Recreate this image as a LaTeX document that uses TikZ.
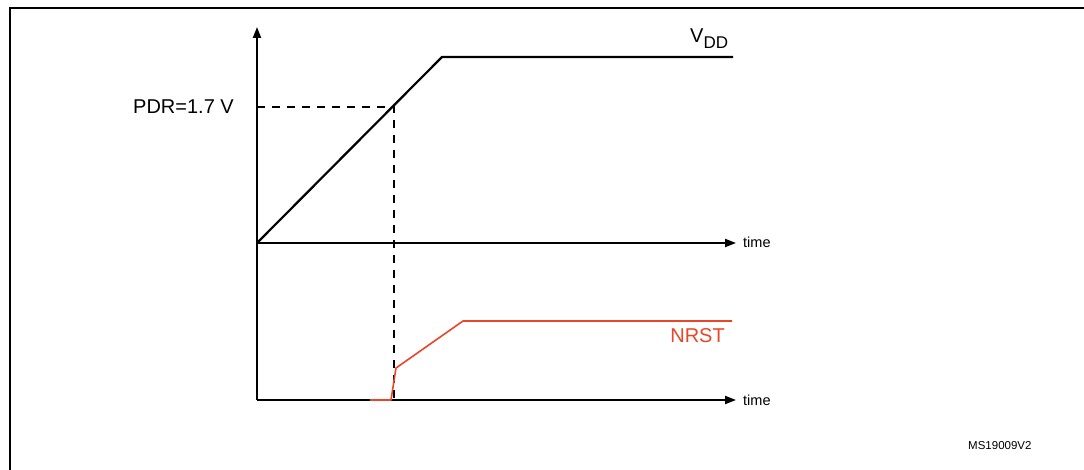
\documentclass[tikz,border=0pt]{standalone}
\usepackage{fontspec}
\setmainfont{Liberation Sans}
\usetikzlibrary{arrows.meta}
\definecolor{nrstred}{RGB}{232,70,40}
\begin{document}
\begin{tikzpicture}[x=1pt,y=-1pt,
  axisline/.style={line width=2pt,-{Triangle[length=11pt,width=8pt]}},
  sigline/.style={line width=2.2pt,line join=miter},
  redline/.style={line width=1.6pt,draw=nrstred,line join=round},
  guide/.style={line width=1.6pt,dash pattern=on 8pt off 7pt},
  lbl/.style={inner sep=0pt,font=\fontsize{20}{20}\selectfont},
  smalllbl/.style={inner sep=0pt,font=\fontsize{14.5}{15}\selectfont},
  tinylbl/.style={inner sep=0pt,font=\fontsize{11.5}{12}\selectfont}]
\useasboundingbox (0,0) rectangle (1084,470);
\fill[white] (0,0) rectangle (1084,470);
% frame
\draw[line width=2.4pt] (10,480) -- (10,8) -- (1095,8);
% axes
\coordinate (O) at (257,400);
\coordinate (Otop) at (257,243);
\coordinate (ytip) at (257,27);
\coordinate (t1) at (736,243);
\coordinate (t2) at (736,400);
\draw[axisline] (O) -- (ytip);
\draw[axisline] (Otop) -- (t1);
\draw[axisline] (O) -- (t2);
\node[smalllbl,anchor=base west] (time1) at (743,248) {time};
\node[smalllbl,anchor=base west] (time2) at (743,405) {time};
% VDD
\coordinate (vk) at (442,57);
\coordinate (vend) at (733,57);
\draw[sigline] (Otop) -- (vk) -- (vend);
\node[lbl,anchor=base west] (vdd) at (690,43) {V\raisebox{-6pt}{\fontsize{17}{17}\selectfont DD}};
% PDR threshold
\coordinate (pdry) at (257,107);
\coordinate (pdrx) at (394,107);
\coordinate (pdrb) at (394,400);
\draw[guide] (pdry) -- (pdrx) -- (pdrb);
\node[lbl,anchor=base east] (pdr) at (234,114) {PDR=1.7 V};
% NRST
\coordinate (n0) at (370,400);
\coordinate (n1) at (391,400);
\coordinate (n2) at (396,368);
\coordinate (n3) at (463,321);
\coordinate (n4) at (732,321);
\draw[redline] (n0) -- (n1) -- (n2) -- (n3) -- (n4);
\node[lbl,anchor=base east,text=nrstred] (nrst) at (725,342) {NRST};
% id
\node[tinylbl,anchor=base west] (msid) at (968,449) {MS19009V2};
\end{tikzpicture}
\end{document}
